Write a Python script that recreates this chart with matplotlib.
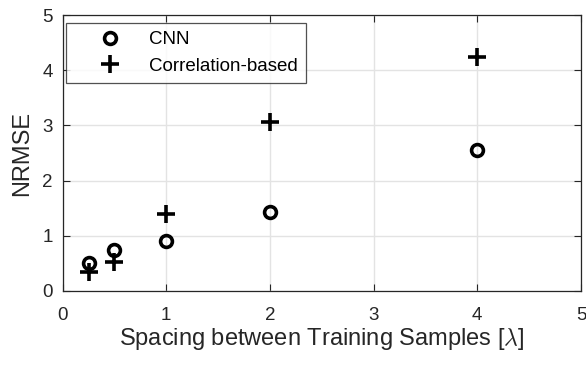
import matplotlib
matplotlib.use("Agg")
import matplotlib.pyplot as plt

spacing = [0.25, 0.5, 1, 2, 4]
cnn_nrmse = [0.50, 0.74, 0.91, 1.43, 2.55]
corr_nrmse = [0.35, 0.53, 1.40, 3.07, 4.24]
xticks = [0, 1, 2, 3, 4, 5]
yticks = [0, 1, 2, 3, 4, 5]

plt.rcParams['font.family'] = ['Liberation Sans', 'DejaVu Sans']
plt.rcParams['mathtext.fontset'] = 'cm'

fig = plt.figure(figsize=(5.86, 3.67), dpi=100)
ax = fig.add_axes([0.1068, 0.2071, 0.8846, 0.752])

ax.plot(spacing, cnn_nrmse, linestyle='none', marker='o', markersize=8.5,
        markerfacecolor='none', markeredgecolor='black', markeredgewidth=2.6,
        label='CNN', zorder=3)
ax.plot(spacing, corr_nrmse, linestyle='none', marker='+', markersize=13,
        markeredgecolor='black', markeredgewidth=2.6,
        label='Correlation-based', zorder=3)

ax.set_xlim(0, 5)
ax.set_ylim(0, 5)
ax.set_xticks(xticks)
ax.set_yticks(yticks)
ax.grid(True, color='#e3e3e3', linewidth=1.0)
ax.set_axisbelow(True)
ax.tick_params(direction='in', top=True, right=True, length=5, width=0.8,
               labelsize=13.5, colors='#262626')
ax.tick_params(axis='x', pad=11.5)
ax.tick_params(axis='y', pad=7)
for s in ax.spines.values():
    s.set_color('#262626')
    s.set_linewidth(0.9)

ax.set_xlabel(r'Spacing between Training Samples [$\lambda$]', fontsize=17,
              color='#262626', labelpad=1.5)
ax.set_ylabel('NRMSE', fontsize=17, color='#262626', labelpad=7)

leg = ax.legend(loc='upper left', bbox_to_anchor=(0.0066, 0.972), fontsize=13.5,
                frameon=True, fancybox=False, edgecolor='#262626',
                borderpad=0.44, handletextpad=0.18, handlelength=3.78,
                labelspacing=0.5, borderaxespad=0)
leg.get_frame().set_linewidth(0.9)

fig.savefig('out.png', dpi=100)
